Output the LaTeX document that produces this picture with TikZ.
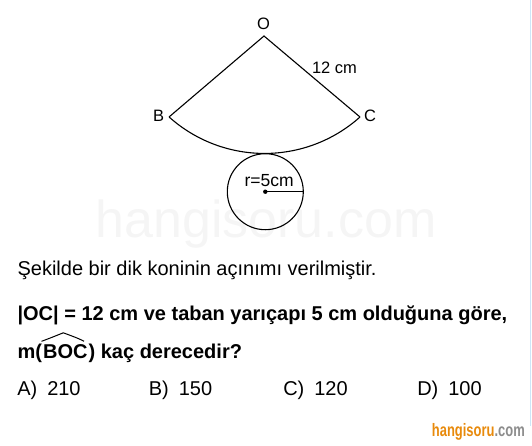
\documentclass[tikz,border=0pt]{standalone}
\usepackage{fontspec}
\setmainfont{Liberation Sans}
\usepackage{tikz}

\definecolor{logoorange}{RGB}{232,138,12}
\definecolor{edgeblue}{RGB}{205,230,248}

\begin{document}
\begin{tikzpicture}[x=1pt,y=-1pt,line width=1.1pt,
    txt/.style={anchor=base west,inner sep=0pt,font=\fontsize{20}{24}\selectfont},
    btxt/.style={txt,font=\fontsize{20}{24}\selectfont\bfseries},
    lbl/.style={inner sep=0pt,font=\fontsize{16.5}{18}\selectfont}]
  \useasboundingbox (0,0) rectangle (532,445);

  % watermark and page edge
  \node[color=black!4,font=\fontsize{52}{52}\selectfont] (wmark) at (266,224) {hangisoru.com};
  \draw[color=edgeblue,line width=1.6pt] (530.5,0) -- (530.5,426);

  % the unrolled cone
  \coordinate (O) at (264,36);
  \coordinate (B) at (169,117);
  \coordinate (C) at (360,117);
  \draw (B) -- (O) -- (C);
  \draw (C) arc[start angle=48.2,end angle=131.8,radius=143.2];

  \node[lbl] (lblO) at (263.5,24.2) {O};
  \node[lbl] (lblB) at (158.5,116.3) {B};
  \node[lbl] (lblC) at (370,116.3) {C};
  \node[lbl,anchor=base west] (len) at (311.5,73.3) {12 cm};

  % base circle
  \coordinate (M) at (265.3,191.7);
  \coordinate (R) at (303.3,191.7);
  \draw (M) circle[radius=38];
  \fill (M) circle[radius=2.2];
  \draw (M) -- (R);
  \node[anchor=base west,inner sep=0pt,font=\fontsize{17.5}{18}\selectfont] (rad) at (244,186.3) {r=5cm};

  % question
  \node[txt] (q1) at (17,275) {Şekilde bir dik koninin açınımı verilmiştir.};
  \node[btxt] (q2) at (17,320) {|OC| = 12 cm ve taban yarıçapı 5 cm olduğuna göre,};
  \node[btxt] (q3a) at (17,358.3) {m(};
  \node[btxt] (boc) at (q3a.base east) {BOC};
  \node[btxt] (q3b) at (boc.base east) {) kaç derecedir?};
  \draw[line width=1pt,line join=round]
    ([xshift=-1pt,yshift=17pt]boc.base west)
    .. controls ([xshift=7pt,yshift=20pt]boc.base west) .. ([xshift=-2pt,yshift=25.5pt]boc.base)
    .. controls ([xshift=-10pt,yshift=20pt]boc.base east) .. ([xshift=-4pt,yshift=17pt]boc.base east);

  % choices
  \node[txt] (chA) at (16.7,395) {A)\hspace{10pt}210};
  \node[txt] (chB) at (148.3,395) {B)\hspace{10pt}150};
  \node[txt] (chC) at (282.7,395) {C)\hspace{10pt}120};
  \node[txt] (chD) at (416.7,395) {D)\hspace{10pt}100};

  % logo
  \node[anchor=base west,inner sep=0pt,xscale=0.72,font=\fontsize{18}{18}\selectfont\bfseries] (logo) at (431.5,436)
    {\textcolor{logoorange}{hangisoru}\textcolor{black!45}{.com}};
\end{tikzpicture}
\end{document}
